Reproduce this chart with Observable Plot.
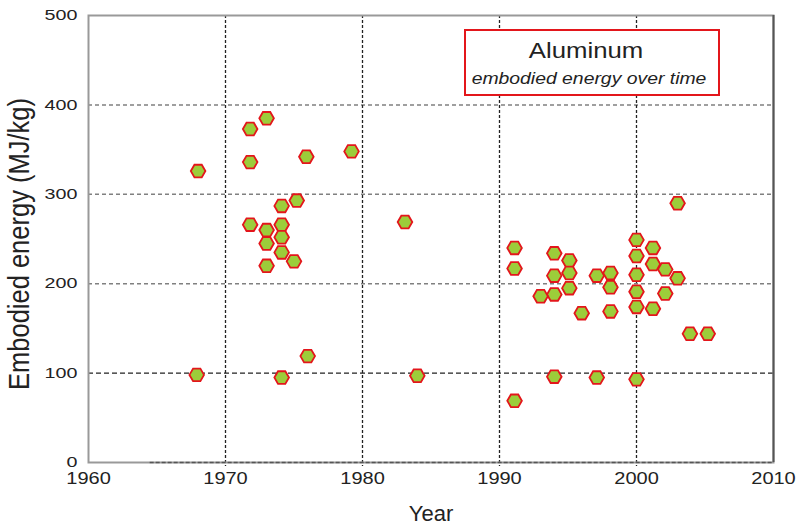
<!DOCTYPE html>
<html>
<head>
<meta charset="utf-8">
<script src="https://cdn.jsdelivr.net/npm/d3@7"></script>
<script src="https://cdn.jsdelivr.net/npm/@observablehq/plot@0.6"></script>
<style>
  body { margin: 0; background: #fff; }
  #chart { width: 798px; height: 526px; }
</style>
</head>
<body>
<div id="chart"></div>
<script>
// Published embodied-energy estimates for primary aluminum, by year of study
const years = [
  1968, 1971.8, 1973, 1971.8, 1975.9, 1979.2, 1974.1, 1975.2, 1971.8, 1973,
  1974.1, 1973, 1974.1, 1974.1, 1975, 1973, 1983.1, 1967.9, 1974.1, 1976,
  1984, 1991.1, 1994, 1997.1, 2000, 2003.9, 2005.2, 1991.1, 1991.1, 1994,
  1995.1, 1995.1, 1994, 1997.1, 1998.1, 1998.1, 1995.1, 1994, 1993, 1996,
  1998.1, 2000, 2000, 2000, 2000, 2000, 2001.2, 2001.2, 2001.2, 2002.1,
  2002.1, 2003, 2003
];
const energy = [
  326, 373, 385, 336, 342, 348, 287, 293, 266, 260,
  266, 245, 252, 235, 225, 220, 269, 98, 95, 119,
  97, 69, 96, 95, 93, 144, 144, 240, 217, 234,
  226, 212, 209, 209, 212, 196, 195, 188, 186, 167,
  169, 249, 231, 210, 191, 174, 240, 222, 172, 216,
  189, 206, 290
];
const xTicks = [1960, 1970, 1980, 1990, 2000, 2010];
const yTicks = [0, 100, 200, 300, 400, 500];
const title = "Aluminum";
const subtitle = "embodied energy over time";
const xLabel = "Year";
const yLabel = "Embodied energy (MJ/kg)";

const points = years.map((year, i) => ({year, energy: energy[i]}));

// Flat-topped hexagon marker
const hexagon = {
  draw(ctx, size) {
    const r = Math.sqrt(size / Math.PI);
    const h = r * Math.sqrt(3) / 2;
    ctx.moveTo(r, 0);
    ctx.lineTo(r / 2, h);
    ctx.lineTo(-r / 2, h);
    ctx.lineTo(-r, 0);
    ctx.lineTo(-r / 2, -h);
    ctx.lineTo(r / 2, -h);
    ctx.closePath();
  }
};

const innerX = xTicks.slice(1, -1);
const innerY = yTicks.slice(1, -1);

const chart = Plot.plot({
  width: 798,
  height: 526,
  marginTop: 15,
  marginRight: 25,
  marginBottom: 64,
  marginLeft: 88,
  style: {fontFamily: "'Liberation Sans', Arial, sans-serif", background: "#fff", overflow: "visible"},
  x: {domain: [1960, 2010], axis: null},
  y: {domain: [0, 500], axis: null},
  marks: [
    Plot.ruleY(innerY.filter(v => v !== 100), {stroke: "#808080", strokeWidth: 1.5, strokeDasharray: "4,3"}),
    Plot.ruleY([100], {stroke: "#222", strokeWidth: 1.3, strokeDasharray: "5,3"}),
    Plot.ruleX(innerX, {insetBottom: -4, stroke: "#222", strokeWidth: 1.3, strokeDasharray: "3,2"}),
    Plot.frame({stroke: "#999", strokeWidth: 2}),
    Plot.ruleX([2010], {stroke: "#555", strokeWidth: 2}),
    Plot.ruleY([0], {x1: 1964.5, x2: 2010, stroke: "#555", strokeWidth: 1.5, strokeDasharray: "4,2"}),
    Plot.dot(points, {x: "year", y: "energy", symbol: hexagon, r: 7.3, fill: "#9ccd3a", stroke: "#e3161b", strokeWidth: 1.8}),
    Plot.text(yTicks, {y: d => d, text: d => String(d), frameAnchor: "left", textAnchor: "end", dx: -11, fontSize: 14.5, fill: "#222"}),
    Plot.text(xTicks, {x: d => d, text: d => String(d), frameAnchor: "bottom", dy: 21, fontSize: 16, fill: "#222"})
  ]
});

document.getElementById("chart").appendChild(chart);

// Widen tick labels horizontally about their anchor points
const svg = d3.select(chart.tagName === "svg" ? chart : chart.querySelector("svg"));
const textGroups = svg.selectAll('g[aria-label="text"]').nodes();
const widen = [1.36, 1.25];
textGroups.forEach((g, k) => {
  d3.select(g).selectAll("text").each(function () {
    const t = this.getAttribute("transform") || "";
    this.setAttribute("transform", `${t} scale(${widen[k] || 1.3},1)`);
  });
});

// Axis titles
svg.append("text")
  .attr("transform", "translate(28.5,244) rotate(-90) scale(1.02,1.2)")
  .attr("text-anchor", "middle")
  .attr("font-size", 25)
  .attr("fill", "#222")
  .text(yLabel);

svg.append("text")
  .attr("x", 431)
  .attr("y", 521)
  .attr("text-anchor", "middle")
  .attr("font-size", 22)
  .attr("fill", "#222")
  .text(xLabel);

// Title box
const box = svg.append("g");
box.append("rect")
  .attr("x", 465).attr("y", 30)
  .attr("width", 254).attr("height", 65)
  .attr("fill", "#fff")
  .attr("stroke", "#e3161b")
  .attr("stroke-width", 2);
box.append("text")
  .attr("transform", "translate(586,58) scale(1.12,1)")
  .attr("text-anchor", "middle")
  .attr("font-size", 23)
  .attr("fill", "#222")
  .text(title);
box.append("text")
  .attr("transform", "translate(589,84) scale(1.14,1)")
  .attr("text-anchor", "middle")
  .attr("font-size", 17)
  .attr("font-style", "italic")
  .attr("fill", "#222")
  .text(subtitle);
</script>
</body>
</html>
